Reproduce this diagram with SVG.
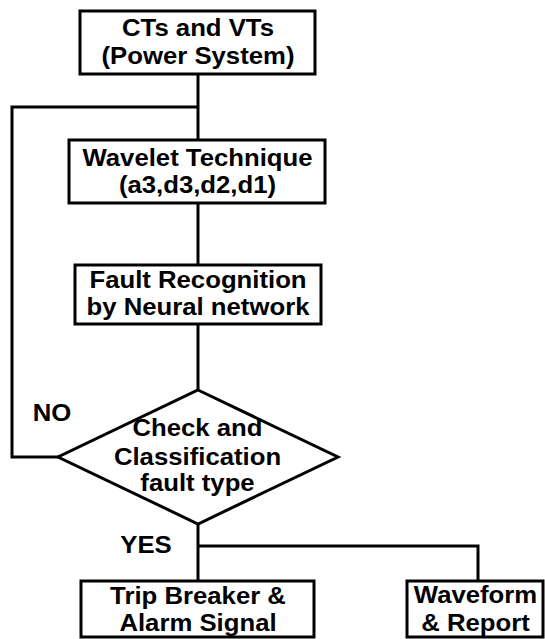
<svg xmlns="http://www.w3.org/2000/svg" width="545" height="639" viewBox="0 0 545 639">
<style>
.box{fill:#fff;stroke:#000;stroke-width:3}
.con{fill:none;stroke:#000;stroke-width:3}
text{font-family:"Liberation Sans",Arial,sans-serif;font-weight:bold;font-size:24.5px;fill:#000;text-anchor:middle}
</style>
<rect width="545" height="639" fill="#fff"/>
<g id="connectors" class="con">
<line x1="198" y1="74" x2="198" y2="140"/>
<polyline points="198,107 12,107 12,457 58,457"/>
<line x1="198" y1="203" x2="198" y2="265"/>
<line x1="198" y1="324" x2="198" y2="390"/>
<line x1="198" y1="524" x2="198" y2="581"/>
<polyline points="198,546 478,546 478,581"/>
</g>
<g id="n1">
<rect class="box" x="80" y="11" width="235" height="63"/>
<text transform="translate(198,36) scale(1.05,1)">CTs and VTs</text>
<text transform="translate(198,64) scale(1.05,1)">(Power System)</text>
</g>
<g id="n2">
<rect class="box" x="69" y="140" width="256" height="63"/>
<text transform="translate(197.5,166) scale(1.05,1)">Wavelet Technique</text>
<text transform="translate(197.5,193) scale(1.05,1)">(a3,d3,d2,d1)</text>
</g>
<g id="n3">
<rect class="box" x="75" y="265" width="246" height="59"/>
<text transform="translate(198,288) scale(1.05,1)">Fault Recognition</text>
<text transform="translate(198,315) scale(1.05,1)">by Neural network</text>
</g>
<g id="n4">
<polygon class="box" points="198,390 338,457 198,524 58,457"/>
<text transform="translate(197.5,436) scale(1.05,1)">Check and</text>
<text transform="translate(197.5,464.5) scale(1.05,1)">Classification</text>
<text transform="translate(197.5,490.5) scale(1.05,1)">fault type</text>
</g>
<g id="labels">
<text transform="translate(52,421) scale(1.05,1)">NO</text>
<text transform="translate(146,553) scale(1.05,1)">YES</text>
</g>
<g id="n5">
<rect class="box" x="81" y="581" width="233" height="56"/>
<text transform="translate(198,604) scale(1.05,1)">Trip Breaker &amp;</text>
<text transform="translate(198,631) scale(1.05,1)">Alarm Signal</text>
</g>
<g id="n6">
<rect class="box" x="407" y="581" width="136" height="56"/>
<text transform="translate(475.5,603) scale(1.05,1)">Waveform</text>
<text transform="translate(475.5,631) scale(1.05,1)">&amp; Report</text>
</g>
</svg>
